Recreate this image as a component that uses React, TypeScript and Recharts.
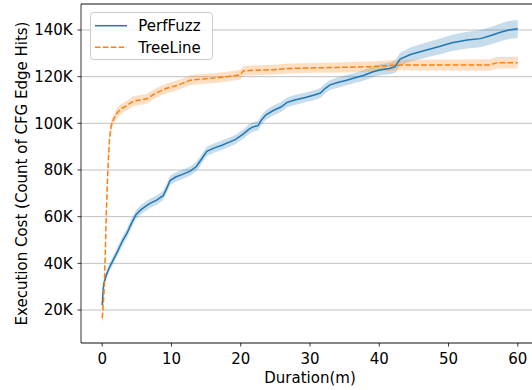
import { Area, CartesianGrid, ComposedChart, Legend, Line, ReferenceLine, XAxis, YAxis } from 'recharts';

// PerfFuzz: duration (min), mean edge hits (K), band half-width (K)
const perfTime = [
  0, 0.1, 0.2, 0.6, 1.0, 1.6, 2.2, 3.0, 3.6, 4.2, 4.9, 5.6, 6.3, 6.9, 7.8, 8.8, 9.3, 9.8, 10.6, 11.5,
  12.7, 13.6, 14.3, 15.1, 16.2, 17.2, 18, 19.2, 20.4, 21.2, 21.8, 22.5, 23, 23.6, 24.7, 25.8, 26.7,
  27.8, 29.2, 30.5, 31.5, 32.2, 32.9, 34, 35.3, 36.5, 37.7, 39, 40.2, 41.5, 42.3, 43, 44.5, 45.9,
  47.5, 48.8, 50.5, 52.7, 54.6, 56, 57.5, 58.7, 60,
];
const perfMean = [
  22, 27, 31, 35, 38, 41.5, 45, 50, 53, 57, 61, 63, 64.5, 65.7, 67, 69, 72, 75.5, 77, 78,
  79.5, 81.5, 84.5, 88, 89.5, 90.5, 91.5, 93, 95.5, 97.5, 98.5, 99, 101.5, 103.5, 105.5, 107, 109,
  110, 111, 112, 113, 115, 116.5, 117.5, 118.5, 119.5, 120.5, 122, 123, 123.5, 124.3, 127.5, 129.5, 130.7,
  132, 133, 134.5, 135.7, 136.3, 137.5, 139, 140, 140.5,
];
const perfSpread = [
  1.5, 1.6, 1.6, 1.7, 1.8, 1.8, 1.9, 2, 2, 2, 2, 2, 2, 2, 2, 2, 2, 2, 2, 2,
  2, 2, 2, 2, 2, 2, 2, 2, 2, 2.1, 2.1, 2.1, 2.1, 2.1, 2.1, 2.1, 2.1,
  2.1, 2.1, 2.1, 2.1, 2.1, 2.1, 2.2, 2.2, 2.2, 2.3, 2.3, 2.4, 2.5, 2.6, 2.8, 3, 3.2,
  3.3, 3.4, 3.5, 3.6, 3.7, 3.7, 3.8, 3.9, 3.9,
];

// TreeLine
const treeTime = [
  0, 0.15, 0.3, 0.45, 0.6, 0.75, 0.9, 1.05, 1.3, 1.6, 2.05, 2.6, 3.5, 4.5, 5.5, 6.4, 7.5, 8.5, 9.3,
  10.5, 11.5, 12.7, 14.5, 16.5, 18, 19.9, 20.4, 22.5, 24.7, 27, 30.5, 35, 38.7, 43, 50, 56, 57, 60,
];
const treeMean = [
  16.5, 22, 30, 45, 62, 75, 85, 93, 99, 101.5, 104, 106, 107.5, 109.5, 110, 110.5, 112.5, 114, 115,
  116, 117, 118.5, 119, 119.5, 120, 120.8, 122.5, 122.8, 123, 123.5, 123.8, 124, 124.3, 125, 125, 125, 126, 126,
];
const treeSpread = [
  3, 3, 2.8, 2.6, 2.4, 2.3, 2.2, 2.2, 2.1, 2.1, 2.1, 2.1, 2.1, 2.1, 2.1, 2.1, 2.1, 2.1, 2.1,
  2.1, 2.1, 2.1, 2.1, 2.1, 2.1, 2.1, 2.1, 2.1, 2.1, 2.1, 2.1, 2.2, 2.2, 2.3, 2.4, 2.5, 2.5, 2.5,
];

const xTicks = [0, 10, 20, 30, 40, 50, 60];
const yTicks = [20000, 40000, 60000, 80000, 100000, 120000, 140000];

const BLUE = '#1f77b4';
const ORANGE = '#ff7f0e';
const FONT = '"DejaVu Sans", sans-serif';
const FS = 15;
const Y_MIN = 5860;
const Y_MAX = 151140;

const perfData = perfTime.map((t, i) => ({
  t,
  v: perfMean[i] * 1000,
  band: [(perfMean[i] - perfSpread[i]) * 1000, (perfMean[i] + perfSpread[i]) * 1000],
}));
const treeData = treeTime.map((t, i) => ({
  t,
  v: treeMean[i] * 1000,
  band: [(treeMean[i] - treeSpread[i]) * 1000, (treeMean[i] + treeSpread[i]) * 1000],
}));

function LegendBox() {
  return (
    <svg width={124} height={49} style={{ display: 'block' }}>
      <rect x={0.5} y={0.5} width={122} height={47} rx={3} fill="#fff" fillOpacity={0.8} stroke="#cccccc" />
      <line x1={5} x2={37} y1={13.7} y2={13.7} stroke={BLUE} strokeWidth={1.5} />
      <text x={48.3} y={19} fontSize={FS} fontFamily={FONT} fill="#000">PerfFuzz</text>
      <line x1={5} x2={37} y1={35.3} y2={35.3} stroke={ORANGE} strokeWidth={1.5} strokeDasharray="5.5 2.4" />
      <text x={48.3} y={40.7} fontSize={FS} fontFamily={FONT} fill="#000">TreeLine</text>
    </svg>
  );
}

export default function App() {
  const tick = { fontSize: FS, fontFamily: FONT, fill: '#000' };
  return (
    <div style={{ position: 'fixed', left: 0, top: 0, width: 532, height: 390, overflow: 'hidden', background: '#fff' }}>
      <ComposedChart width={539} height={390} margin={{ top: 4, right: 0, left: 0, bottom: 0 }}>
        <CartesianGrid vertical={false} stroke="#b0b0b0" strokeWidth={0.8} />
        <XAxis
          type="number"
          dataKey="t"
          domain={[-3.06, 63.06]}
          allowDataOverflow
          ticks={xTicks}
          height={47}
          tick={tick}
          tickSize={3.5}
          tickMargin={7}
          axisLine={{ stroke: '#000', strokeWidth: 0.8 }}
          tickLine={{ stroke: '#000', strokeWidth: 0.8 }}
          label={{
            content: ({ viewBox }: any) => (
              <text x={viewBox.x + viewBox.width / 2} y={383} textAnchor="middle" fontSize={FS} fontFamily={FONT} fill="#000">
                Duration(m)
              </text>
            ),
          }}
        />
        <YAxis
          type="number"
          domain={[Y_MIN, Y_MAX]}
          allowDataOverflow
          ticks={yTicks}
          width={81}
          tickFormatter={(v: number) => `${v / 1000}K`}
          tick={tick}
          tickSize={3.5}
          tickMargin={4.8}
          axisLine={{ stroke: '#000', strokeWidth: 0.8 }}
          tickLine={{ stroke: '#000', strokeWidth: 0.8 }}
          label={{
            content: ({ viewBox }: any) => {
              const cy = viewBox.y + viewBox.height / 2;
              return (
                <text
                  x={22}
                  y={cy}
                  transform={`rotate(-90 22 ${cy})`}
                  textAnchor="middle"
                  dominantBaseline="central"
                  fontSize={FS}
                  fontFamily={FONT}
                  fill="#000"
                >
                  Execution Cost (Count of CFG Edge Hits)
                </text>
              );
            },
          }}
        />
        <ReferenceLine y={Y_MAX} stroke="#000" strokeWidth={0.8} />
        <Area data={perfData} dataKey="band" type="linear" stroke="none" fill={BLUE} fillOpacity={0.25} isAnimationActive={false} legendType="none" />
        <Area data={treeData} dataKey="band" type="linear" stroke="none" fill={ORANGE} fillOpacity={0.25} isAnimationActive={false} legendType="none" />
        <Line data={perfData} dataKey="v" name="PerfFuzz" type="linear" stroke={BLUE} strokeWidth={1.5} dot={false} isAnimationActive={false} />
        <Line
          data={treeData}
          dataKey="v"
          name="TreeLine"
          type="linear"
          stroke={ORANGE}
          strokeWidth={1.5}
          strokeDasharray="5.5 2.4"
          dot={false}
          isAnimationActive={false}
        />
        <Legend
          layout="vertical"
          align="center"
          verticalAlign="middle"
          content={() => <LegendBox />}
          wrapperStyle={{ left: 90, top: 12, width: 124, height: 49 }}
        />
      </ComposedChart>
    </div>
  );
}
